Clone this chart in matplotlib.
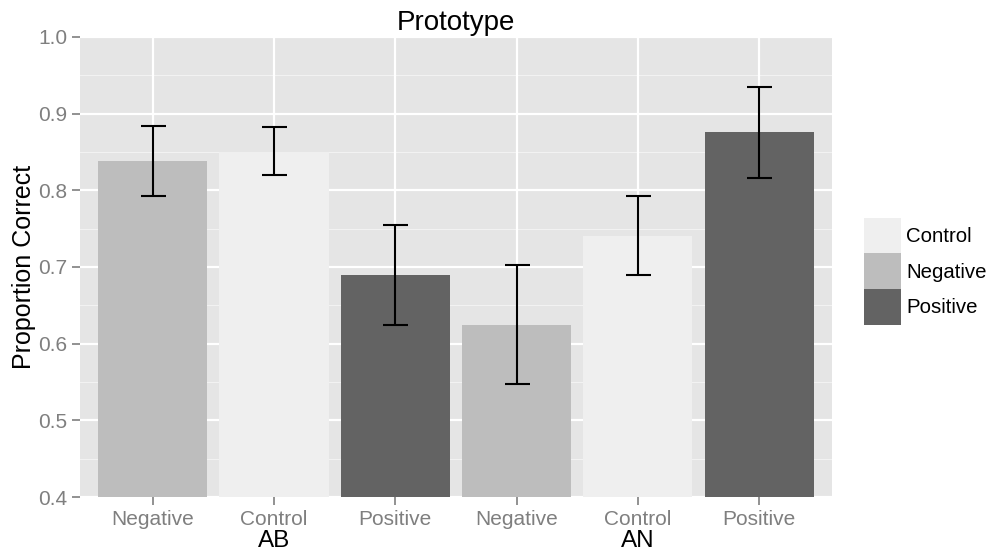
import numpy as np
import matplotlib.pyplot as plt
import matplotlib.patches as mpatches

plt.rcParams['font.family'] = ['Liberation Sans', 'DejaVu Sans']

# data
conditions = ['Negative', 'Control', 'Positive', 'Negative', 'Control', 'Positive']
groups = ['AB', 'AN']
means = [0.838, 0.850, 0.690, 0.625, 0.740, 0.876]
err_lo = [0.792, 0.820, 0.624, 0.548, 0.689, 0.816]
err_hi = [0.884, 0.883, 0.755, 0.702, 0.792, 0.935]

fills = {'Control': '#EFEFEF', 'Negative': '#BDBDBD', 'Positive': '#636363'}

fig = plt.figure(figsize=(9.92, 5.57), dpi=100)
ax = fig.add_axes([0.0806, 0.1077, 0.758, 0.8259])
ax.set_facecolor('#E5E5E5')

x = np.arange(len(means))
ax.set_xlim(-0.6, len(means) - 0.4)
ax.set_ylim(0.4, 1.0)

# grid
for v in np.arange(0.45, 1.0, 0.1):
    ax.axhline(v, color='#F2F2F2', lw=0.8, zorder=0)
for v in np.arange(0.4, 1.01, 0.1):
    ax.axhline(v, color='white', lw=1.6, zorder=0)
for xi in x:
    ax.axvline(xi, color='white', lw=1.6, zorder=0)

ax.bar(x, [m - 0.4 for m in means], bottom=0.4, width=0.9,
       color=[fills[c] for c in conditions], zorder=2)
ax.errorbar(x, means, yerr=[np.array(means) - err_lo, np.array(err_hi) - means],
            fmt='none', ecolor='black', elinewidth=1.5, capsize=9, capthick=1.5, zorder=3)

for s in ax.spines.values():
    s.set_visible(False)
ax.set_yticks(np.arange(0.4, 1.01, 0.1))
ax.set_yticklabels([f'{v:.1f}' for v in np.arange(0.4, 1.01, 0.1)])
ax.set_xticks(x)
ax.set_xticklabels(conditions)
ax.tick_params(colors='#7F7F7F', labelsize=15, length=6, width=1.2, pad=3)

for i, g in enumerate(groups):
    ax.text(x[3 * i + 1], -0.095, g, transform=ax.get_xaxis_transform(),
            ha='center', va='center', fontsize=17.5, color='black')

ax.set_ylabel('Proportion Correct', fontsize=18, labelpad=2)
ax.set_title('Prototype', fontsize=20, pad=5)

handles = [mpatches.Patch(facecolor=fills[k], edgecolor='none', label=k)
           for k in ['Control', 'Negative', 'Positive']]
fig.legend(handles=handles, loc='center left', bbox_to_anchor=(0.871, 0.513),
           frameon=False, fontsize=14.7, handlelength=1.8, handleheight=2.3,
           labelspacing=0.0, handletextpad=0.25, borderaxespad=0, borderpad=0)

fig.savefig('out.png', dpi=100)
